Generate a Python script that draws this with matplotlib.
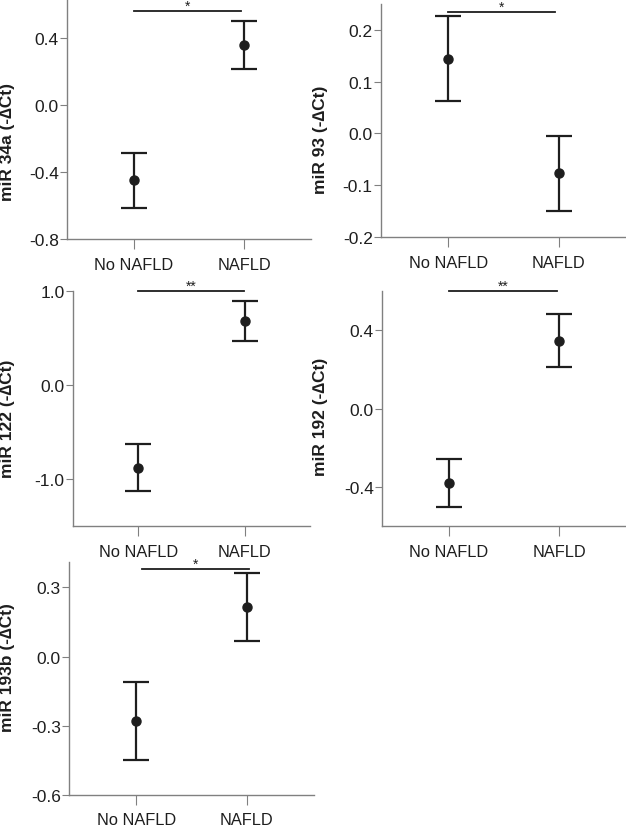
import numpy as np
import matplotlib.pyplot as plt

plt.rcParams['font.family'] = ['Liberation Sans', 'DejaVu Sans']

groups = ['No NAFLD', 'NAFLD']

# mean and 95% CI for each miRNA
mir34a_mean = [-0.450, 0.357]
mir34a_lo = [-0.615, 0.210]
mir34a_hi = [-0.290, 0.500]

mir93_mean = [0.144, -0.077]
mir93_lo = [0.062, -0.150]
mir93_hi = [0.227, -0.004]

mir122_mean = [-0.883, 0.684]
mir122_lo = [-1.128, 0.465]
mir122_hi = [-0.628, 0.897]

mir192_mean = [-0.379, 0.345]
mir192_lo = [-0.504, 0.210]
mir192_hi = [-0.258, 0.484]

mir193b_mean = [-0.280, 0.217]
mir193b_lo = [-0.449, 0.069]
mir193b_hi = [-0.111, 0.364]

labels = ['miR 34a (-\u2206Ct)', 'miR 93 (-\u2206Ct)', 'miR 122 (-\u2206Ct)',
          'miR 192 (-\u2206Ct)', 'miR 193b (-\u2206Ct)']
stars = ['*', '*', '**', '**', '*']
bracket_y = [0.56, 0.235, 1.0, 0.6, 0.381]

W, H = 626, 829
fig = plt.figure(figsize=(W / 100, H / 100), dpi=100)

# pixel boxes: left, top, right, bottom
boxes = [(67, 0, 311, 240), (381, 5, 626, 238), (73, 292, 310, 527),
         (382, 292, 626, 527), (69, 563, 314, 796)]
ylims = [(-0.8, 0.63), (-0.2, 0.25), (-1.5, 1.0), (-0.6, 0.6), (-0.6, 0.41)]
yticks = [[-0.8, -0.4, 0.0, 0.4], [-0.2, -0.1, 0.0, 0.1, 0.2], [-1.0, 0.0, 1.0],
          [-0.4, 0.0, 0.4], [-0.6, -0.3, 0.0, 0.3]]
label_x = [15, 328, 15, 328, 15]   # right edge of the rotated label, px
label_y = [0.41, 0.42, 0.46, 0.47, 0.55]
bracket_x = [(0, 0.97), (0, 0.97), (0, 0.99), (0, 0.98), (0.05, 1.02)]
xpad = [6, 6, 6, 6, 5]

means = [mir34a_mean, mir93_mean, mir122_mean, mir192_mean, mir193b_mean]
los = [mir34a_lo, mir93_lo, mir122_lo, mir192_lo, mir193b_lo]
his = [mir34a_hi, mir93_hi, mir122_hi, mir192_hi, mir193b_hi]

axis_col = '#808080'
ink = '#1e1e1e'

for i in range(5):
    l, t, r, b = boxes[i]
    ax = fig.add_axes([l / W, 1 - b / H, (r - l) / W, (b - t) / H])
    x = np.arange(len(groups))
    m = np.array(means[i])
    err = [m - np.array(los[i]), np.array(his[i]) - m]
    ax.errorbar(x, m, yerr=err, fmt='o', color=ink, ms=6.5, elinewidth=1.6,
                capsize=9.5, capthick=1.6, clip_on=False)
    ax.set_xlim(-0.61, 1.61)
    ax.set_ylim(*ylims[i])
    ax.set_xticks(x)
    ax.set_xticklabels(groups)
    ax.set_yticks(yticks[i])
    ax.set_yticklabels(['%.1f' % v for v in yticks[i]])
    for s in ['top', 'right']:
        ax.spines[s].set_visible(False)
    for s in ['left', 'bottom']:
        ax.spines[s].set_color(axis_col)
        ax.spines[s].set_linewidth(1.0)
    ax.tick_params(axis='y', length=5, color=axis_col, labelsize=12.5,
                   labelcolor=ink, pad=1)
    ax.tick_params(axis='x', length=7, color=axis_col, labelsize=11.8,
                   labelcolor=ink, pad=xpad[i])
    ax.set_ylabel(labels[i], fontsize=12.5, fontweight='bold', color=ink)
    ax.yaxis.set_label_coords((label_x[i] - l) / (r - l), label_y[i])

    x0, x1 = bracket_x[i]
    ax.plot([x0, x1], [bracket_y[i], bracket_y[i]], color=ink, lw=1.3,
            clip_on=False)
    ax.annotate(stars[i], xy=((x0 + x1) / 2, bracket_y[i]), xytext=(0, 1),
                textcoords='offset points', ha='center', va='baseline',
                fontsize=10, color=ink, annotation_clip=False)

fig.savefig('out.png', dpi=100)
